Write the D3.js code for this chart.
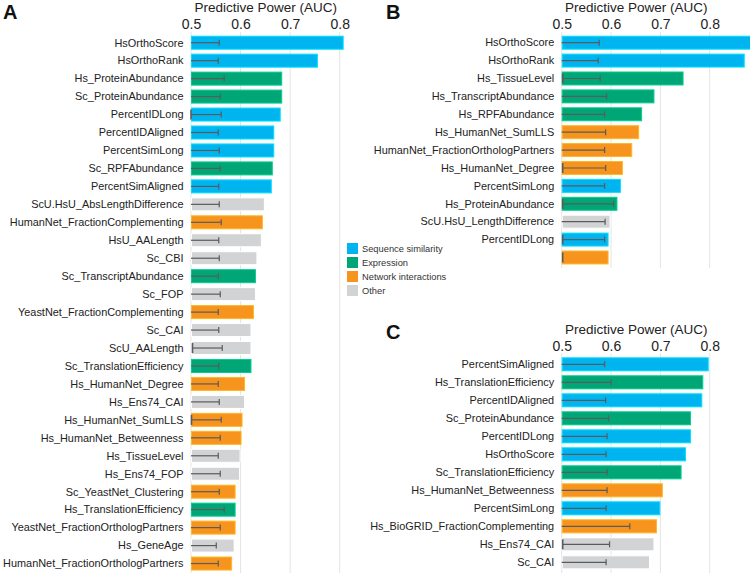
<!DOCTYPE html>
<html><head><meta charset="utf-8">
<script src="https://cdn.jsdelivr.net/npm/d3@7"></script>
<style>body{margin:0;background:#fff}svg{display:block}text{font-family:"Liberation Sans",Arial,Helvetica,sans-serif}</style>
</head><body><svg id="c" width="750" height="573"></svg>
<script>
// ---- Data ----
const categoryNames = {s:"Sequence similarity", e:"Expression", n:"Network interactions", o:"Other"};
const categoryOrder = ["s","e","n","o"];
const axisTicks = [0.5, 0.6, 0.7, 0.8];

const labelsA = ["HsOrthoScore","HsOrthoRank","Hs_ProteinAbundance","Sc_ProteinAbundance","PercentIDLong","PercentIDAligned","PercentSimLong","Sc_RPFAbundance","PercentSimAligned","ScU.HsU_AbsLengthDifference","HumanNet_FractionComplementing","HsU_AALength","Sc_CBI","Sc_TranscriptAbundance","Sc_FOP","YeastNet_FractionComplementing","Sc_CAI","ScU_AALength","Sc_TranslationEfficiency","Hs_HumanNet_Degree","Hs_Ens74_CAI","Hs_HumanNet_SumLLS","Hs_HumanNet_Betweenness","Hs_TissueLevel","Hs_Ens74_FOP","Sc_YeastNet_Clustering","Hs_TranslationEfficiency","YeastNet_FractionOrthologPartners","Hs_GeneAge","HumanNet_FractionOrthologPartners"];
const catA = ["s","s","e","e","s","s","s","e","s","o","n","o","o","e","o","n","o","o","e","n","o","n","n","o","o","n","e","n","o","n"];
const aucA = [0.808,0.756,0.684,0.684,0.681,0.668,0.668,0.665,0.663,0.649,0.645,0.643,0.634,0.631,0.631,0.627,0.622,0.622,0.622,0.609,0.609,0.604,0.602,0.600,0.599,0.590,0.590,0.590,0.588,0.583];
const errHiA = [0.557,0.555,0.567,0.559,0.561,0.555,0.557,0.559,0.556,0.557,0.561,0.556,0.557,0.555,0.559,0.555,0.556,0.563,0.556,0.555,0.557,0.561,0.559,0.555,0.559,0.557,0.567,0.559,0.551,0.555];
const errLoA = [0.443,0.445,0.433,0.441,0.500,0.445,0.443,0.441,0.444,0.443,0.439,0.444,0.443,0.445,0.441,0.445,0.444,0.503,0.444,0.445,0.443,0.501,0.441,0.445,0.441,0.443,0.433,0.441,0.449,0.445];

const labelsB = ["HsOrthoScore","HsOrthoRank","Hs_TissueLevel","Hs_TranscriptAbundance","Hs_RPFAbundance","Hs_HumanNet_SumLLS","HumanNet_FractionOrthologPartners","Hs_HumanNet_Degree","PercentSimLong","Hs_ProteinAbundance","ScU.HsU_LengthDifference","PercentIDLong",""];
const catB = ["s","s","e","e","e","n","n","n","s","e","o","s","n"];
const aucB = [0.885,0.871,0.747,0.688,0.663,0.657,0.643,0.624,0.620,0.613,0.599,0.595,0.595];
const errHiB = [0.576,0.574,0.578,0.591,0.587,0.589,0.587,0.589,0.587,0.605,0.588,0.587,0.502];
const errLoB = [0.424,0.426,0.502,0.409,0.413,0.411,0.413,0.502,0.413,0.502,0.412,0.502,0.502];

const labelsC = ["PercentSimAligned","Hs_TranslationEfficiency","PercentIDAligned","Sc_ProteinAbundance","PercentIDLong","HsOrthoScore","Sc_TranslationEfficiency","Hs_HumanNet_Betweenness","PercentSimLong","Hs_BioGRID_FractionComplementing","Hs_Ens74_CAI","Sc_CAI"];
const catC = ["s","e","s","e","s","s","e","n","s","n","o","o"];
const aucC = [0.798,0.787,0.785,0.762,0.762,0.752,0.743,0.705,0.700,0.693,0.688,0.679];
const errHiC = [0.587,0.600,0.589,0.595,0.592,0.590,0.592,0.592,0.590,0.638,0.597,0.590];
const errLoC = [0.413,0.400,0.411,0.405,0.408,0.410,0.408,0.408,0.410,0.362,0.502,0.410];

// ---- Styles ----
const colors = {s:"#00b5ef", e:"#00a676", n:"#f7941d", o:"#d1d3d4"};
const svg = d3.select("#c");

function panel(opt){
  const {labels, cats, auc, hi, lo, x0, x1, top, step, n, gridTop, gridBottom, titleY, tickY, letter, letterX, letterY} = opt;
  const x = d3.scaleLinear().domain([0.5,0.8]).range([x0,x1]);
  const idx = d3.range(n);
  const y = d3.scaleBand().domain(idx).range([top - step*0.11, top - step*0.11 + n*step]).paddingInner(0.22).paddingOuter(0.11);
  const g = svg.append("g");
  // grid
  g.selectAll("line.grid").data(axisTicks).join("line")
    .attr("x1", d=>x(d)).attr("x2", d=>x(d)).attr("y1", gridTop).attr("y2", gridBottom)
    .attr("stroke", "#e4e4e4").attr("stroke-width", 1);
  // axis
  const ax = d3.axisTop(x).tickValues(axisTicks).tickFormat(d3.format(".1f")).tickSize(0).tickPadding(0);
  const axg = g.append("g").attr("transform", `translate(0,${tickY})`).call(ax);
  axg.select(".domain").remove();
  axg.selectAll("text").attr("font-size", 14).attr("fill", "#222").attr("dy", 0).attr("font-family", '"Liberation Sans",Arial,sans-serif');
  g.append("text").attr("x", (x0+x1)/2 + 0.5).attr("y", titleY).attr("text-anchor","middle")
    .attr("font-size", 13.5).attr("fill","#222").text("Predictive Power (AUC)");
  // bars
  g.selectAll("rect.bar").data(idx).join("rect")
    .attr("x", x(0.5)+0.5).attr("y", i=>y(i)+0.5)
    .attr("width", i=>x(auc[i]) - x(0.5) - 1).attr("height", y.bandwidth()-1)
    .attr("fill", i=>colors[cats[i]])
    .attr("stroke", i=>d3.color(colors[cats[i]]).brighter(0.6)).attr("stroke-width", 1);
  // labels
  g.selectAll("text.lab").data(idx).join("text")
    .attr("x", x0 - 7.5).attr("y", i=>y(i)+y.bandwidth()/2).attr("dy","0.35em")
    .attr("text-anchor","end").attr("font-size", 10.9).attr("fill","#222").text(i=>labels[i]);
  // error bars
  const ec = "#5b5b5b";
  g.selectAll("line.err").data(idx).join("line")
    .attr("x1", i=>x(Math.max(0.5, lo[i]))).attr("x2", i=>x(hi[i]))
    .attr("y1", i=>y(i)+y.bandwidth()/2).attr("y2", i=>y(i)+y.bandwidth()/2)
    .attr("stroke", ec).attr("stroke-width", 1.2);
  g.selectAll("line.cap").data(idx.filter(i=>hi[i]>lo[i])).join("line")
    .attr("x1", i=>x(hi[i])).attr("x2", i=>x(hi[i]))
    .attr("y1", i=>y(i)+y.bandwidth()/2-3).attr("y2", i=>y(i)+y.bandwidth()/2+3)
    .attr("stroke", ec).attr("stroke-width", 1.2);
  g.selectAll("line.lcap").data(idx.filter(i=>lo[i]>=0.5)).join("line")
    .attr("x1", i=>x(lo[i])).attr("x2", i=>x(lo[i]))
    .attr("y1", i=>y(i)+2).attr("y2", i=>y(i)+y.bandwidth()-2)
    .attr("stroke", ec).attr("stroke-width", 1.6);
  svg.append("text").attr("x", letterX).attr("y", letterY).attr("font-size", 20).attr("font-weight","bold")
    .attr("fill","#111").text(letter);
}

panel({labels:labelsA, cats:catA, auc:aucA, hi:errHiA, lo:errLoA, x0:191, x1:339.7, top:35.7, step:17.96, n:labelsA.length,
  gridTop:32, gridBottom:573, titleY:11.5, tickY:28.5, letter:"A", letterX:3, letterY:19});
panel({labels:labelsB, cats:catB, auc:aucB, hi:errHiB, lo:errLoB, x0:561.7, x1:709.7, top:35.7, step:17.9, n:labelsB.length,
  gridTop:32, gridBottom:268, titleY:11.5, tickY:28.5, letter:"B", letterX:386, letterY:19});
panel({labels:labelsC, cats:catC, auc:aucC, hi:errHiC, lo:errLoC, x0:561.7, x1:709.7, top:357.3, step:18, n:labelsC.length,
  gridTop:353, gridBottom:573, titleY:333.5, tickY:350.5, letter:"C", letterX:386, letterY:339});

// legend
const lg = svg.append("g").attr("transform","translate(347,243)");
lg.selectAll("rect").data(categoryOrder).join("rect")
  .attr("x",0).attr("y",(d,i)=>i*14).attr("width",11).attr("height",11).attr("fill",d=>colors[d]);
lg.selectAll("text").data(categoryOrder).join("text")
  .attr("x",15).attr("y",(d,i)=>i*14+5.5).attr("dy","0.35em").attr("font-size",9.3).attr("fill","#333")
  .text(d=>categoryNames[d]);
</script></body></html>
